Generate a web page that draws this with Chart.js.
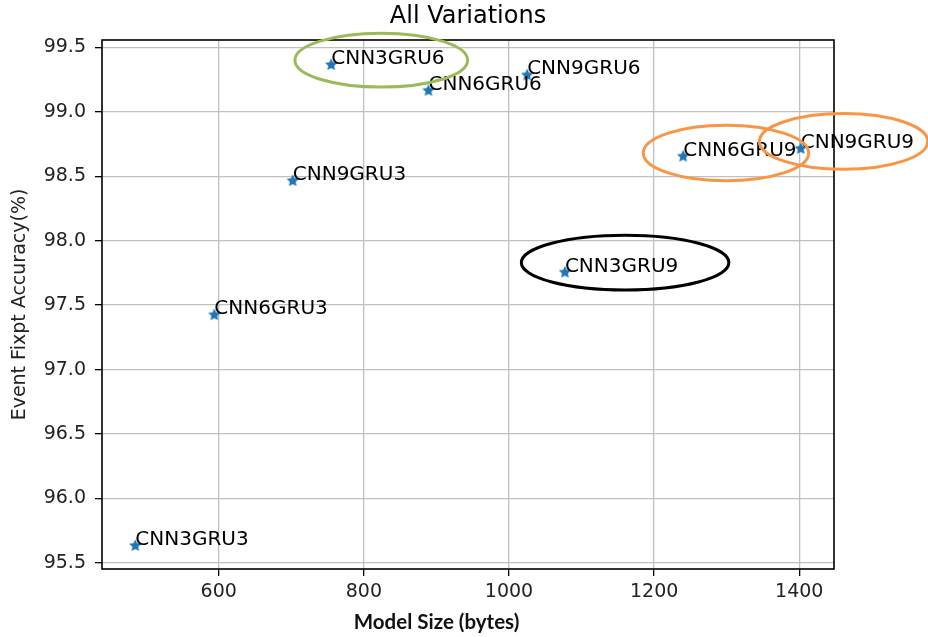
<!DOCTYPE html>
<html>
<head>
<meta charset="utf-8">
<title>All Variations</title>
<script src="https://cdn.jsdelivr.net/npm/chart.js@4.4.1/dist/chart.umd.min.js"></script>
<style>
	html, body { margin: 0; padding: 0; background: #fff; }
	#scatter { display: block; }
</style>
</head>
<body>
<canvas id="scatter" width="928" height="637"></canvas>
<script>
var models = ['CNN3GRU3', 'CNN6GRU3', 'CNN9GRU3', 'CNN3GRU6', 'CNN6GRU6', 'CNN9GRU6', 'CNN3GRU9', 'CNN6GRU9', 'CNN9GRU9'];
var modelSize = [485, 594, 702, 755, 889, 1025, 1077, 1240, 1402];
var accuracy = [95.64, 97.43, 98.47, 99.37, 99.17, 99.29, 97.76, 98.66, 98.72];
var xTicks = [600, 800, 1000, 1200, 1400];
var yTicks = [95.5, 96.0, 96.5, 97.0, 97.5, 98.0, 98.5, 99.0, 99.5];

// hand drawn rings around some models (centre and radius in data units)
var rings = [
	{ x: 824, y: 99.40, rx: 119, ry: 0.209, color: '#9bbb59' },
	{ x: 1299, y: 98.68, rx: 114, ry: 0.216, color: '#f79646' },
	{ x: 1461, y: 98.77, rx: 116, ry: 0.216, color: '#f79646' },
	{ x: 1160, y: 97.83, rx: 143, ry: 0.213, color: '#000000' }
];

var font = 'DejaVu Sans';

function makeStar(size, color) {
	var c = document.createElement('canvas');
	c.width = size;
	c.height = size;
	var g = c.getContext('2d');
	var R = size / 2 - 0.5, r = R * 0.48;
	g.beginPath();
	for (var i = 0; i < 10; i++) {
		var a = -Math.PI / 2 + i * Math.PI / 5;
		var d = (i % 2 === 0) ? R : r;
		g.lineTo(size / 2 + d * Math.cos(a), size / 2 + 0.8 + d * Math.sin(a));
	}
	g.closePath();
	g.fillStyle = color;
	g.fill();
	return c;
}

var points = [];
for (var i = 0; i < models.length; i++) {
	points.push({ x: modelSize[i], y: accuracy[i] });
}

// matplotlib style 5% margins
var xPad = (Math.max.apply(null, modelSize) - Math.min.apply(null, modelSize)) * 0.05;
var yPad = (Math.max.apply(null, accuracy) - Math.min.apply(null, accuracy)) * 0.05;

var extras = {
	id: 'extras',
	afterDatasetsDraw: function (chart) {
		var ctx = chart.ctx;
		var meta = chart.getDatasetMeta(0);
		ctx.save();
		ctx.font = '20px "' + font + '"';
		ctx.fillStyle = '#000';
		ctx.textAlign = 'left';
		ctx.textBaseline = 'alphabetic';
		meta.data.forEach(function (pt, i) {
			ctx.fillText(models[i], pt.x, pt.y);
		});
		ctx.restore();
	},
	afterDraw: function (chart) {
		var ctx = chart.ctx;
		var a = chart.chartArea;
		var xs = chart.scales.x, ys = chart.scales.y;
		ctx.save();
		// box round the plot
		ctx.strokeStyle = '#000';
		ctx.lineWidth = 1.6;
		ctx.strokeRect(a.left, a.top, a.right - a.left, a.bottom - a.top);
		// title over the plot
		ctx.font = '24px "' + font + '"';
		ctx.fillStyle = '#000';
		ctx.textAlign = 'center';
		ctx.textBaseline = 'middle';
		ctx.fillText('All Variations', (a.left + a.right) / 2, 17);
		// x axis title
		ctx.font = 'bold 20.5px Lato';
		ctx.fillStyle = '#111';
		ctx.fillText('Model Size (bytes)', a.left + (a.right - a.left) * 0.457, 622);
		// rings
		ctx.lineWidth = 3;
		rings.forEach(function (o) {
			var px = xs.getPixelForValue(o.x), py = ys.getPixelForValue(o.y);
			var rx = Math.abs(xs.getPixelForValue(o.x + o.rx) - px);
			var ry = Math.abs(ys.getPixelForValue(o.y + o.ry) - py);
			ctx.strokeStyle = o.color;
			ctx.beginPath();
			ctx.ellipse(px, py, rx, ry, 0, 0, Math.PI * 2);
			ctx.stroke();
		});
		ctx.restore();
	}
};

var ctx = document.getElementById('scatter');
var scatter = new Chart(ctx, {
	type: 'scatter',
	data: {
		datasets: [{
			label: 'All Variations',
			data: points,
			pointStyle: makeStar(14, '#1f77b4'),
			pointRadius: 7,
			pointHoverRadius: 7
		}]
	},
	options: {
		responsive: false,
		animation: false,
		layout: { padding: { left: 0, right: 94, top: 40, bottom: 0 } },
		plugins: {
			legend: { display: false },
			tooltip: { enabled: false },
			title: { display: false }
		},
		scales: {
			x: {
				type: 'linear',
				min: Math.min.apply(null, modelSize) - xPad,
				max: Math.max.apply(null, modelSize) + xPad,
				afterBuildTicks: function (scale) {
					scale.ticks = xTicks.map(function (v) { return { value: v }; });
				},
				afterFit: function (scale) { scale.height = 68; },
				border: { display: false },
				grid: { color: '#c0c0c0', lineWidth: 1.3, tickColor: '#000', tickLength: 7 },
				ticks: {
					color: '#222',
					padding: 5,
					maxRotation: 0,
					font: { family: font, size: 19 },
					callback: function (v) { return v; }
				}
			},
			y: {
				type: 'linear',
				min: Math.min.apply(null, accuracy) - yPad,
				max: Math.max.apply(null, accuracy) + yPad,
				afterBuildTicks: function (scale) {
					scale.ticks = yTicks.map(function (v) { return { value: v }; });
				},
				afterFit: function (scale) { scale.width = 102; },
				border: { display: false },
				grid: { color: '#c0c0c0', lineWidth: 1.3, tickColor: '#000', tickLength: 7 },
				ticks: {
					color: '#222',
					padding: 9,
					font: { family: font, size: 19 },
					callback: function (v) { return Number(v).toFixed(1); }
				},
				title: {
					display: true,
					text: 'Event Fixpt Accuracy(%)',
					color: '#222',
					font: { family: font, size: 19 },
					padding: { top: 9, bottom: 0 }
				}
			}
		}
	},
	plugins: [extras]
});
</script>
</body>
</html>
